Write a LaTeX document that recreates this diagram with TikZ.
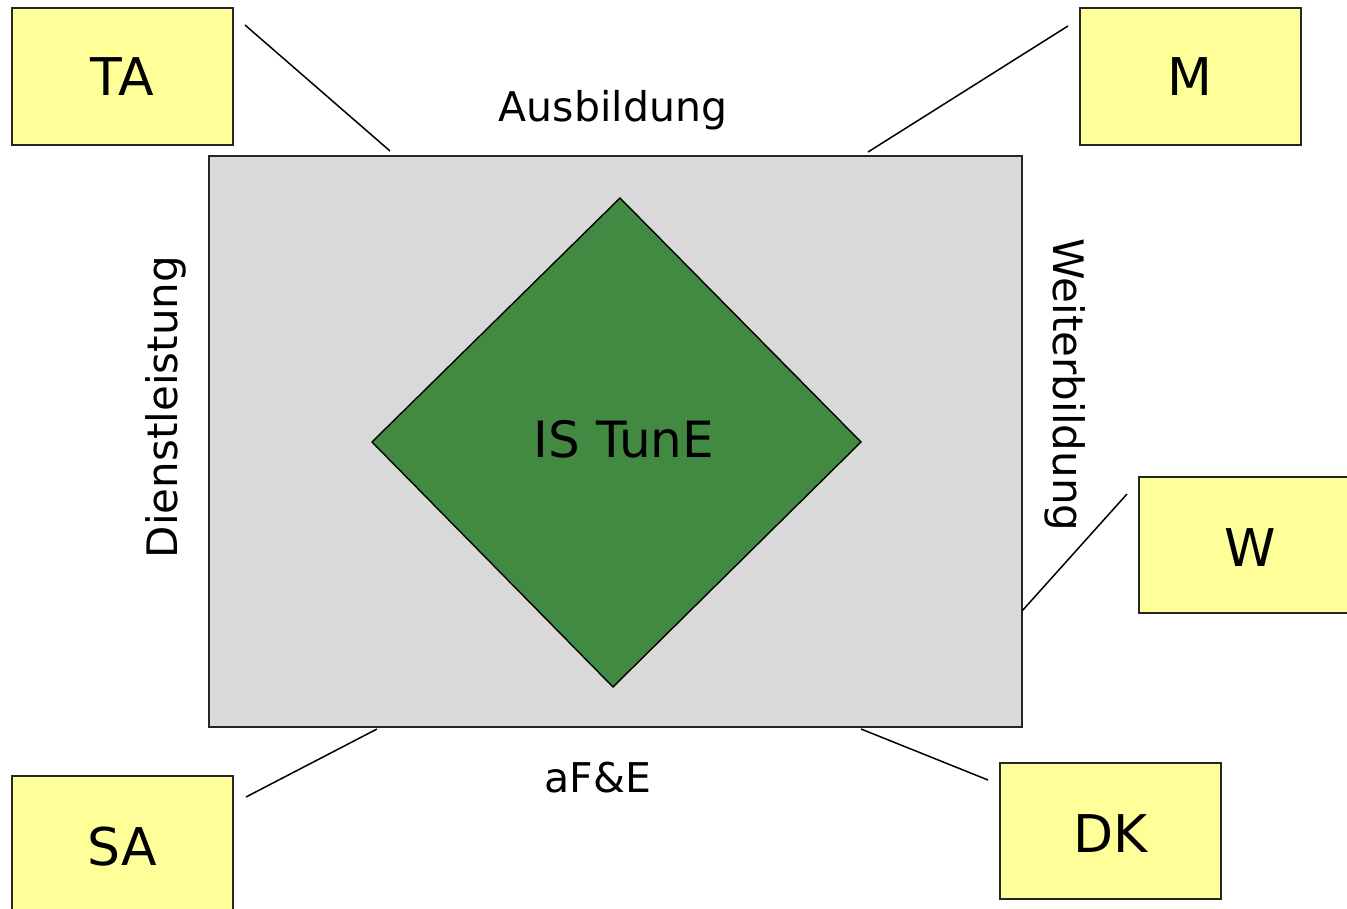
\documentclass[tikz,border=0pt]{standalone}
\usepackage{fontspec}
\setmainfont{DejaVu Sans}
\definecolor{boxyellow}{HTML}{FFFF99}
\definecolor{panelgray}{HTML}{D9D9D9}
\definecolor{diagreen}{HTML}{428A42}
\begin{document}
\begin{tikzpicture}[x=1pt,y=-1pt,
  ybox/.style={draw=black!85,line width=1.6pt,fill=boxyellow},
  conn/.style={draw=black,line width=1.5pt},
  biglabel/.style={font=\fontsize{52}{60}\selectfont,anchor=base,inner sep=0pt},
  sidelabel/.style={font=\fontsize{41}{48}\selectfont,anchor=base,inner sep=0pt},
  vlabel/.style={font=\fontsize{42}{48}\selectfont,anchor=base,inner sep=0pt}]
\useasboundingbox (0,0) rectangle (1347,909);
% central panel
\draw[fill=panelgray,draw=black!85,line width=1.6pt] (209,156) rectangle (1022,727);
\draw[fill=diagreen,draw=black,line width=1.4pt] (620,198) -- (861,442) -- (613,687) -- (372,442) -- cycle;
\node[font=\fontsize{50}{58}\selectfont,anchor=base,inner sep=0pt] (core) at (624,457) {IS TunE};
% yellow boxes
\draw[ybox] (12,8) rectangle (233,145);
\draw[ybox] (1080,8) rectangle (1301,145);
\draw[ybox] (1139,477) rectangle (1365,613);
\draw[ybox] (12,776) rectangle (233,925);
\draw[ybox] (1000,763) rectangle (1221,899);
\node[biglabel] (ta) at (122,96) {TA};
\node[biglabel] (m) at (1190,96) {M};
\node[biglabel] (w) at (1250,566) {W};
\node[biglabel] (sa) at (122,865) {SA};
\node[biglabel] (dk) at (1111,852) {DK};
% side labels
\node[sidelabel] (ausb) at (613,122) {Ausbildung};
\node[vlabel,rotate=90] (dienst) at (177,407) {Dienstleistung};
\node[vlabel,rotate=-90] (weiter) at (1053,385) {Weiterbildung};
\node[sidelabel] (afe) at (598,792) {aF\&E};
% connectors
\coordinate (ta1) at (245,25);  \coordinate (ta2) at (390,151);
\coordinate (m1) at (1068,26);  \coordinate (m2) at (868,152);
\coordinate (w1) at (1127,494); \coordinate (w2) at (1022,611);
\coordinate (sa1) at (246,797); \coordinate (sa2) at (377,729);
\coordinate (dk1) at (988,780); \coordinate (dk2) at (861,729);
\draw[conn] (ta1) -- (ta2);
\draw[conn] (m1) -- (m2);
\draw[conn] (w1) -- (w2);
\draw[conn] (sa1) -- (sa2);
\draw[conn] (dk1) -- (dk2);
\end{tikzpicture}
\end{document}
